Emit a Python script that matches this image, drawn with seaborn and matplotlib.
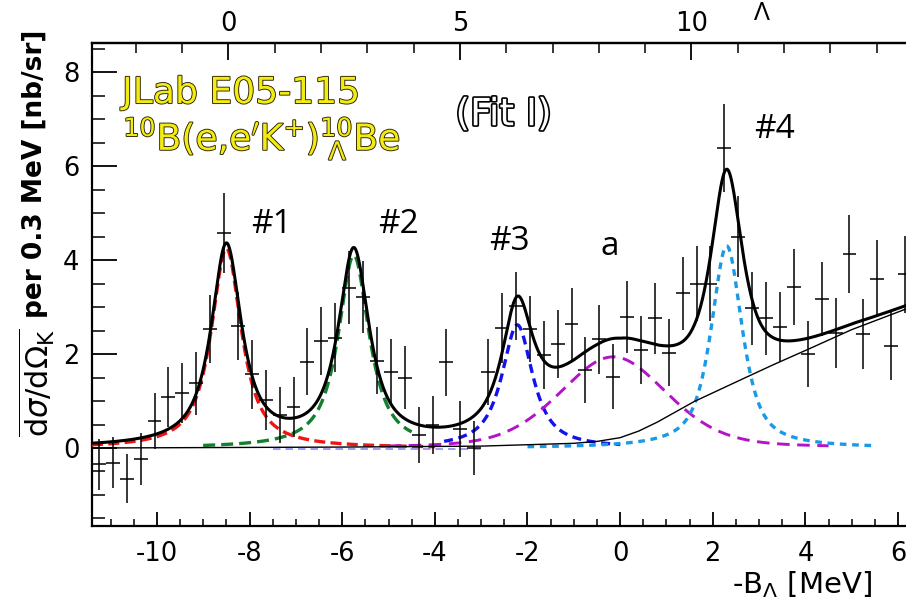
import numpy as np
import pandas as pd
import matplotlib
matplotlib.use("Agg")
import matplotlib.pyplot as plt
import matplotlib.patheffects as pe
from matplotlib.ticker import MultipleLocator
import seaborn as sns

# ---------------- data ----------------
bin_centers = [-11.25, -10.95, -10.65, -10.35, -10.05, -9.75, -9.45, -9.15, -8.85, -8.55,
               -8.25, -7.95, -7.65, -7.35, -7.05, -6.75, -6.45, -6.15, -5.85, -5.55,
               -5.25, -4.95, -4.65, -4.35, -4.05, -3.75, -3.45, -3.15, -2.85, -2.55,
               -2.25, -1.95, -1.65, -1.35, -1.05, -0.75, -0.45, -0.15, 0.15, 0.45,
               0.75, 1.05, 1.35, 1.65, 1.95, 2.25, 2.55, 2.85, 3.15, 3.45,
               3.75, 4.05, 4.35, 4.65, 4.95, 5.25, 5.55, 5.85, 6.15]
counts = [-0.35, -0.31, -0.65, -0.24, 0.58, 1.09, 1.17, 1.38, 2.53, 4.57,
          2.60, 1.57, 1.02, 0.70, 0.88, 1.84, 2.28, 2.35, 3.41, 3.21,
          1.86, 1.62, 1.50, 0.28, 0.49, 1.82, 0.40, 0.00, 1.62, 2.55,
          3.02, 2.53, 1.98, 2.21, 2.64, 1.66, 2.31, 1.52, 2.79, 2.09,
          2.76, 2.03, 3.29, 3.50, 3.50, 6.38, 4.50, 2.97, 2.76, 2.58,
          3.43, 2.00, 3.17, 2.45, 4.12, 2.43, 3.60, 2.17, 3.70]
errors = [0.55, 0.55, 0.53, 0.55, 0.60, 0.64, 0.64, 0.67, 0.72, 0.85,
          0.73, 0.73, 0.64, 0.60, 0.64, 0.71, 0.73, 0.74, 0.78, 0.77,
          0.71, 0.71, 0.67, 0.60, 0.62, 0.71, 0.60, 0.58, 0.70, 0.74,
          0.72, 0.71, 0.72, 0.73, 0.76, 0.70, 0.74, 0.69, 0.76, 0.73,
          0.76, 0.72, 0.78, 0.80, 0.80, 0.94, 0.86, 0.78, 0.78, 0.75,
          0.81, 0.71, 0.78, 0.75, 0.83, 0.74, 0.82, 0.73, 0.82]
bin_half_width = 0.15

# fitted peak components (pseudo-Voigt parameters)
peak_names = ["#1", "#2", "#3", "a", "#4"]
peak_centers = [-8.50, -5.75, -2.22, -0.15, 2.30]
peak_heights = [4.25, 4.10, 2.62, 1.94, 4.30]
peak_fwhm = [0.78, 0.80, 0.80, 2.75, 0.80]
peak_lorentz_frac = [0.90, 0.90, 0.90, 0.30, 0.75]
peak_draw_from = [-11.4, -9.0, -3.8, -5.0, -2.0]
peak_draw_to = [-4.0, -4.5, 0.0, 4.5, 5.5]

# background (thin black line)
bg_x = [-11.4, -6.0, -3.0, -1.0, -0.5, 0.0, 0.4, 0.8, 1.2, 1.6, 2.1, 2.6, 3.3, 4.1, 5.0, 6.2]
bg_y = [0.00, 0.02, 0.04, 0.10, 0.14, 0.22, 0.36, 0.55, 0.77, 0.99, 1.22, 1.45, 1.77, 2.12, 2.52, 2.97]

# faint lavender component near zero
lav_x = [-7.5, -3.0]
lav_y = [-0.03, -0.03]

label_texts = ["#1", "#2", "#3", "a", "#4"]
label_x = [-7.53, -4.79, -2.40, -0.22, 3.33]
label_y = [4.57, 4.57, 4.21, 4.11, 6.60]

x_ticks = [-10, -8, -6, -4, -2, 0, 2, 4, 6]
y_ticks = [0, 2, 4, 6, 8]
top_ticks = [0, 5, 10]
E_OFFSET = 8.46

# ---------------- styling ----------------
sns.set_theme(style="ticks")
plt.rcParams["font.family"] = ["DejaVu Sans"]
plt.rcParams["mathtext.fontset"] = "dejavusans"
plt.rcParams["text.color"] = "black"
plt.rcParams["xtick.color"] = "black"
plt.rcParams["ytick.color"] = "black"
plt.rcParams["xtick.labelcolor"] = "black"
plt.rcParams["ytick.labelcolor"] = "black"

fig = plt.figure(figsize=(9.06, 5.98), dpi=100)
ax = fig.add_axes([92 / 906, 1 - 526 / 598, (906 - 92) / 906, (526 - 43) / 598])


def pvoigt(x, c, h, w, eta):
    g = np.exp(-4 * np.log(2) * (x - c) ** 2 / w ** 2)
    lor = 1.0 / (1.0 + ((x - c) / (w / 2)) ** 2)
    return h * (eta * lor + (1 - eta) * g)


colors = ["#f01414", "#13802e", "#1212ee", "#b414c8", "#1a9ae6"]
styles = [(0, (3.3, 1.6)), (0, (3.6, 1.8)), (0, (2.7, 1.7)), (0, (4.3, 2.6)), (0, (2.0, 1.7))]
widths = [2.4, 2.4, 2.4, 2.1, 2.4]

# components
for i in range(len(peak_names)):
    xs = np.linspace(peak_draw_from[i], peak_draw_to[i], 600)
    ys = pvoigt(xs, peak_centers[i], peak_heights[i], peak_fwhm[i], peak_lorentz_frac[i])
    sns.lineplot(x=xs, y=ys, ax=ax, color=colors[i], linewidth=widths[i],
                 linestyle=styles[i], estimator=None, sort=False, zorder=3)

# lavender
sns.lineplot(x=lav_x, y=lav_y, ax=ax, color="#8c8cf0", linewidth=1.2,
             linestyle=(0, (4.5, 3)), estimator=None, sort=False, zorder=2)

# background
sns.lineplot(x=bg_x, y=bg_y, ax=ax, color="black", linewidth=1.0,
             estimator=None, sort=False, zorder=4)

# total fit
xt = np.linspace(-11.4, 6.2, 1500)
total = np.interp(xt, bg_x, bg_y)
for i in range(len(peak_names)):
    total = total + pvoigt(xt, peak_centers[i], peak_heights[i], peak_fwhm[i], peak_lorentz_frac[i])
sns.lineplot(x=xt, y=total, ax=ax, color="black", linewidth=2.2,
             estimator=None, sort=False, zorder=5)

# data points
ax.errorbar(bin_centers, counts, yerr=errors, xerr=bin_half_width, fmt="none",
            ecolor="black", elinewidth=1.1, capsize=0, zorder=6)

ax.set_xlim(-11.4, 6.17)
ax.set_ylim(-1.66, 8.62)
ax.set_xlabel("")
ax.set_ylabel("")

ax.set_xticks(x_ticks)
ax.set_xticklabels([str(t) for t in x_ticks])
ax.xaxis.set_minor_locator(MultipleLocator(0.5))
ax.set_yticks(y_ticks)
ax.set_yticklabels([str(t) for t in y_ticks])
ax.yaxis.set_minor_locator(MultipleLocator(0.5))

ax.tick_params(axis="x", which="major", direction="in", length=10, width=1.3,
               labelsize=18.5, pad=11, bottom=True, top=False, labelcolor="black")
ax.tick_params(axis="x", which="minor", direction="in", length=5, width=1.1,
               bottom=True, top=False)
ax.tick_params(axis="y", which="major", direction="in", length=18, width=1.3,
               labelsize=18.5, pad=9, left=True, right=False, labelcolor="black")
ax.tick_params(axis="y", which="minor", direction="in", length=9, width=1.1,
               left=True, right=False)

for s in ["left", "bottom", "top"]:
    ax.spines[s].set_linewidth(1.6)
    ax.spines[s].set_color("black")
ax.spines["right"].set_visible(False)

secax = ax.secondary_xaxis("top", functions=(lambda v: v + E_OFFSET, lambda v: v - E_OFFSET))
secax.set_xticks(top_ticks)
secax.set_xticklabels([str(t) for t in top_ticks])
secax.xaxis.set_minor_locator(MultipleLocator(1))
secax.tick_params(axis="x", which="major", direction="in", length=12, width=1.3,
                  labelsize=18.5, pad=4, colors="black", labelcolor="black")
secax.tick_params(axis="x", which="minor", direction="in", length=7, width=1.1, colors="black")
secax.spines["top"].set_linewidth(1.6)
secax.spines["top"].set_color("black")

# peak labels
for t, lx, ly in zip(label_texts, label_x, label_y):
    ax.text(lx, ly, t, fontsize=24, ha="center", va="baseline", color="black",
            family=["Open Sans", "DejaVu Sans"], zorder=7)

outline = [pe.withStroke(linewidth=1.3, foreground="#2a2000")]
ax.text(-10.75, 7.34, "JLab E05-115", fontsize=26, color="#f2ec12",
        ha="left", va="baseline", path_effects=outline, zorder=7)
ax.text(-10.73, 6.34, r"$^{10}$B(e,e$'$K$^{+}$)$^{10}_{\ \Lambda}$Be", fontsize=26,
        color="#f2ec12", ha="left", va="baseline", path_effects=outline, zorder=7)
ax.text(-2.52, 6.87, "(Fit I)", fontsize=27, color="white", ha="center", va="baseline",
        path_effects=[pe.withStroke(linewidth=2.4, foreground="black")], zorder=7)

# y label (two parts)
fig.text(50 / 906, 1 - 437 / 598, r"$\overline{\mathrm{d}\sigma/\mathrm{d}\Omega_{\mathrm{K}}}$",
         fontsize=22, rotation=90, rotation_mode="anchor", ha="left", va="baseline")
fig.text(42 / 906, 1 - 318 / 598, "per 0.3 MeV [nb/sr]", fontsize=19, fontweight="bold",
         rotation=90, rotation_mode="anchor", ha="left", va="baseline")

# x label
fig.text(732 / 906, 1 - 593 / 598, r"-B$_{\Lambda}$ [MeV]", fontsize=21,
         ha="left", va="baseline")
# top-axis title remnant near the top edge
fig.text(762 / 906, 1 - 0.5 / 598, "Λ", fontsize=19, ha="center", va="top",
         family=["Open Sans", "DejaVu Sans"])

fig.savefig("out.png", dpi=100)
